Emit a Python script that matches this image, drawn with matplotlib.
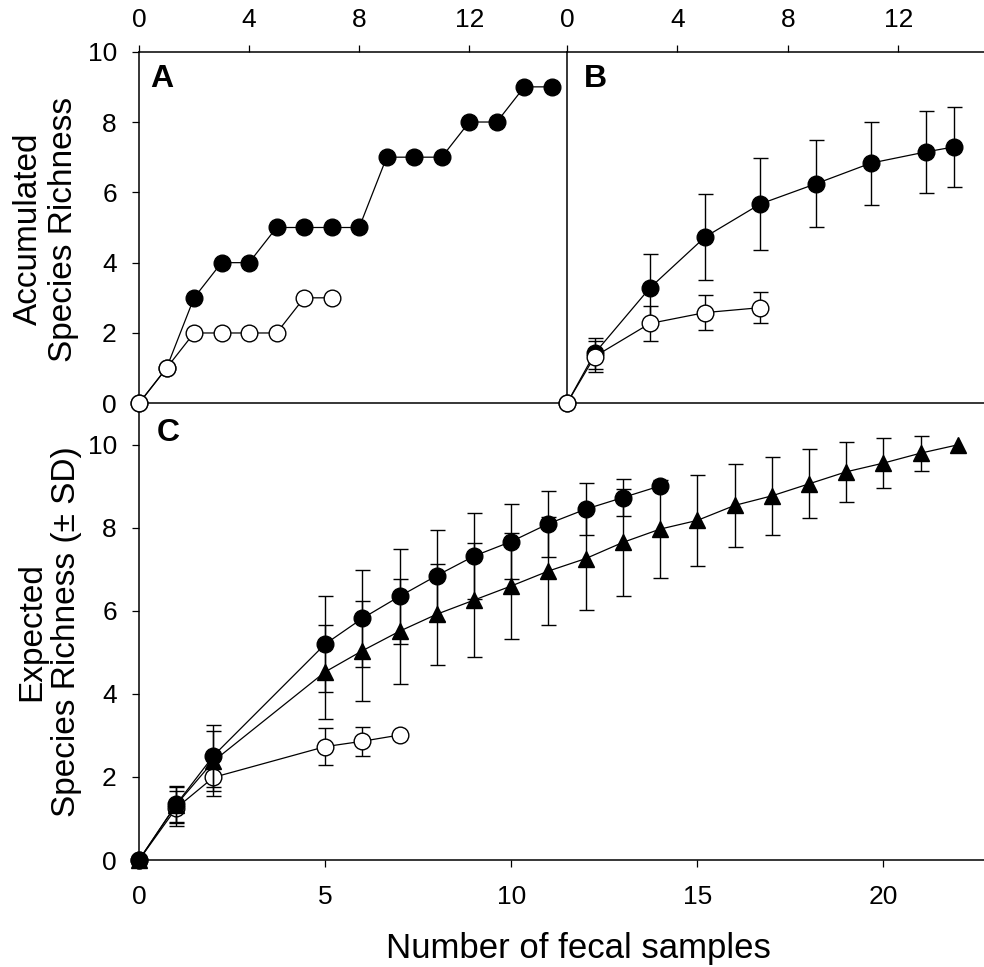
import numpy as np
import matplotlib
matplotlib.use('Agg')
from matplotlib import pyplot as plt

plt.rcParams['font.family'] = ['Liberation Sans', 'DejaVu Sans']

# Panel A: accumulated species richness (observed)
a_x_fill = [0, 1, 2, 3, 4, 5, 6, 7, 8, 9, 10, 11, 12, 13, 14, 15]
a_y_fill = [0, 1, 3, 4, 4, 5, 5, 5, 5, 7, 7, 7, 8, 8, 9, 9]
a_x_open = [0, 1, 2, 3, 4, 5, 6, 7]
a_y_open = [0, 1, 2, 2, 2, 2, 3, 3]

# Panel B: accumulated species richness, mean +- SD
b_x_fill = [0, 1, 3, 5, 7, 9, 11, 13, 14]
b_y_fill = [0, 1.42, 3.28, 4.73, 5.67, 6.24, 6.83, 7.15, 7.29]
b_e_fill = [0, 0.45, 0.98, 1.22, 1.30, 1.24, 1.18, 1.16, 1.13]
b_x_open = [0, 1, 3, 5, 7]
b_y_open = [0, 1.33, 2.27, 2.58, 2.72]
b_e_open = [0, 0.45, 0.50, 0.50, 0.45]

# Panel C: expected species richness (rarefaction) +- SD
c_x_fill = [0, 1, 2, 5, 6, 7, 8, 9, 10, 11, 12, 13, 14]
c_y_fill = [0, 1.34, 2.51, 5.20, 5.82, 6.35, 6.85, 7.32, 7.67, 8.10, 8.45, 8.73, 9.01]
c_e_fill = [0, 0.45, 0.74, 1.15, 1.17, 1.14, 1.09, 1.03, 0.90, 0.79, 0.63, 0.45, 0]
c_x_tri = [0, 1, 2, 5, 6, 7, 8, 9, 10, 11, 12, 13, 14, 15, 16, 17, 18, 19, 20, 21, 22]
c_y_tri = [0, 1.33, 2.38, 4.53, 5.04, 5.51, 5.92, 6.26, 6.60, 6.96, 7.26, 7.65, 7.97,
           8.18, 8.54, 8.77, 9.06, 9.35, 9.56, 9.80, 10.0]
c_e_tri = [0, 0.42, 0.73, 1.14, 1.20, 1.27, 1.22, 1.37, 1.28, 1.30, 1.24, 1.28, 1.18,
           1.10, 1.00, 0.94, 0.83, 0.72, 0.60, 0.42, 0]
c_x_open = [0, 1, 2, 5, 6, 7]
c_y_open = [0, 1.25, 1.99, 2.73, 2.86, 3.01]
c_e_open = [0, 0.42, 0.45, 0.45, 0.35, 0]

W, H = 984.0, 967.0
fig = plt.figure(figsize=(W / 100, H / 100), dpi=100)

# axes placed in pixel units of the reference
axC = fig.add_axes([139 / W, 1 - 860 / H, 845 / W, 456.7 / H])
axA = fig.add_axes([139 / W, 1 - 403.3 / H, 428 / W, 351.6 / H])
axB = fig.add_axes([567 / W, 1 - 403.3 / H, 417 / W, 351.6 / H])

MS = 12
TICKFS = 19


def style(ax):
    for s in ax.spines.values():
        s.set_linewidth(1.1)
    ax.tick_params(direction='out', length=5, width=0.9, labelsize=TICKFS)
    ax.tick_params(axis='y', pad=11)
    ax.tick_params(axis='x', pad=9)


def series(ax, x, y, e, marker, filled, z):
    x = np.array(x)
    y = np.array(y)
    if e is not None:
        e = np.array(e)
        m = e > 0
        ax.errorbar(x[m], y[m], yerr=e[m], fmt='none', ecolor='black',
                    elinewidth=1.0, capsize=5.4, capthick=1.0, zorder=z - 0.5)
    ax.plot(x, y, '-', marker=marker, color='black', lw=0.9, ms=MS,
            mfc='black' if filled else 'white', mec='black', mew=1.0,
            clip_on=False, zorder=z)


# Panel A
series(axA, a_x_fill, a_y_fill, None, 'o', True, 3)
series(axA, a_x_open, a_y_open, None, 'o', False, 4)
axA.set_xlim(0, 15.55)
axA.set_ylim(0, 10)
axA.xaxis.tick_top()
axA.set_xticks([0, 4, 8, 12])
axA.set_yticks([0, 2, 4, 6, 8, 10])
axA.spines['right'].set_visible(False)
style(axA)
axA.text(0.026, 0.965, 'A', transform=axA.transAxes, fontsize=23,
         fontweight='bold', ha='left', va='top')

# Panel B
series(axB, b_x_fill, b_y_fill, b_e_fill, 'o', True, 3)
series(axB, b_x_open, b_y_open, b_e_open, 'o', False, 4)
axB.set_xlim(0, 15.1)
axB.set_ylim(0, 10)
axB.xaxis.tick_top()
axB.set_xticks([0, 4, 8, 12])
axB.spines['right'].set_visible(False)
style(axB)
axB.tick_params(left=False, labelleft=False)
axB.text(0.041, 0.965, 'B', transform=axB.transAxes, fontsize=23,
         fontweight='bold', ha='left', va='top')

# Panel C
series(axC, c_x_open, c_y_open, c_e_open, 'o', False, 3)
series(axC, c_x_tri, c_y_tri, c_e_tri, '^', True, 4)
series(axC, c_x_fill, c_y_fill, c_e_fill, 'o', True, 5)
axC.set_xlim(0, 22.7)
axC.set_ylim(0, 11)
axC.set_xticks([0, 5, 10, 15, 20])
axC.set_yticks([0, 2, 4, 6, 8, 10])
axC.spines['right'].set_visible(False)
axC.spines['top'].set_visible(False)
style(axC)
axC.tick_params(axis='x', pad=13)
axC.text(0.021, 0.968, 'C', transform=axC.transAxes, fontsize=23,
         fontweight='bold', ha='left', va='top')

# axis titles
fig.text(46 / W, 1 - 229 / H, 'Accumulated\nSpecies Richness', rotation=90,
         ha='center', va='center', fontsize=24, linespacing=1.15)
fig.text(49 / W, 1 - 632 / H, 'Expected\nSpecies Richness (\u00b1 SD)', rotation=90,
         ha='center', va='center', fontsize=24, linespacing=1.15)
fig.text(578 / W, 1 - 958 / H, 'Number of fecal samples', ha='center',
         va='baseline', fontsize=25)

fig.savefig('out.png', dpi=100)
